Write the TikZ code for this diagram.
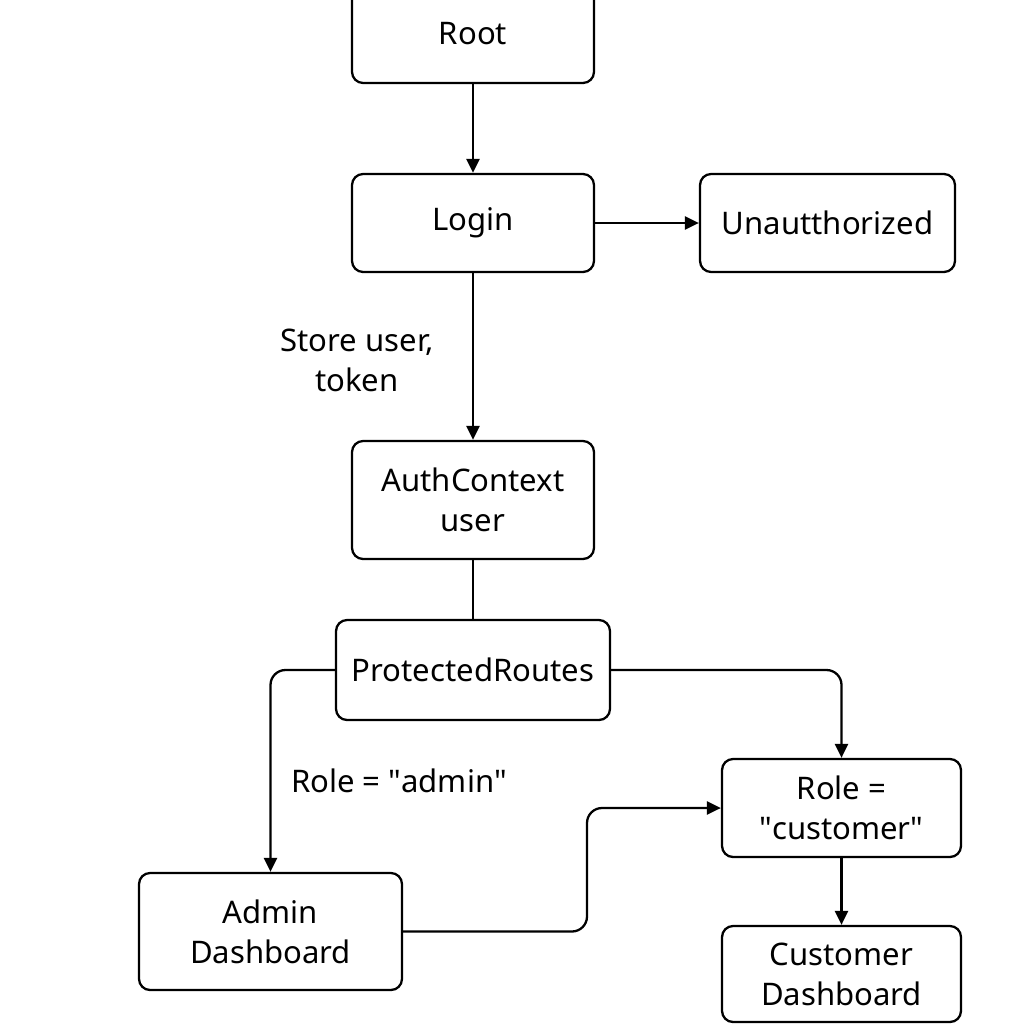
\documentclass[tikz,border=0pt]{standalone}
\usepackage{fontspec}
\setmainfont{Noto Sans}
\usetikzlibrary{arrows.meta}
\begin{document}
\begin{tikzpicture}[
x=0.02cm, y=-0.02cm,
>={Triangle[length=2.8mm,width=2.6mm]},
boxnode/.style={rectangle, rounded corners=0.22cm, draw=black, line width=1.3pt, align=center, inner sep=0pt, font=\fontsize{17.7}{22.7}\selectfont},
labelnode/.style={align=center, font=\fontsize{17.7}{22.7}\selectfont},
line/.style={line width=1.3pt},
]
\useasboundingbox (0,0) rectangle (1024,1024);
%Nodes
\node[boxnode, minimum width=4.84cm, minimum height=1.96cm] (root)      at (473,34)  {Root};
\node[boxnode, minimum width=4.84cm, minimum height=1.96cm] (login)     at (473,223) {Login};
\node[boxnode, minimum width=5.1cm,  minimum height=1.96cm] (unauth)    at (827.5,223) {Unautthorized};
\node[boxnode, minimum width=4.84cm, minimum height=2.36cm] (auth)      at (473,500) {AuthContext\\user};
\node[boxnode, minimum width=5.48cm, minimum height=2cm]    (protected) at (473,670) {ProtectedRoutes};
\node[boxnode, minimum width=5.26cm, minimum height=2.34cm] (admin)     at (270.5,931.5) {Admin\\Dashboard};
\node[boxnode, minimum width=4.78cm, minimum height=1.96cm] (role)      at (841.5,808) {Role =\\\textquotedbl customer\textquotedbl};
\node[boxnode, minimum width=4.78cm, minimum height=1.92cm] (customer)  at (841.5,974) {Customer\\Dashboard};
\node[labelnode] (store)     at (357,360) {Store user,\\token};
\node[labelnode] (adminrole) at (399,781) {Role = \textquotedbl admin\textquotedbl};
\coordinate (bend) at (587,870);

%Lines
\draw[line,->] (root.south) -- (login.north);
\draw[line,->] (login.east) -- (unauth.west);
\draw[line,->] (login.south) -- (auth.north);
\draw[line] (auth.south) -- (protected.north);
\draw[line,->,rounded corners=0.3cm] (protected.west) -| (admin.north);
\draw[line,->,rounded corners=0.3cm] (protected.east) -| (role.north);
\draw[line,->,rounded corners=0.3cm] (admin.east) -| (bend) |- (role.west);
\draw[line,->] (role.south) -- (customer.north);
\end{tikzpicture}
\end{document}
